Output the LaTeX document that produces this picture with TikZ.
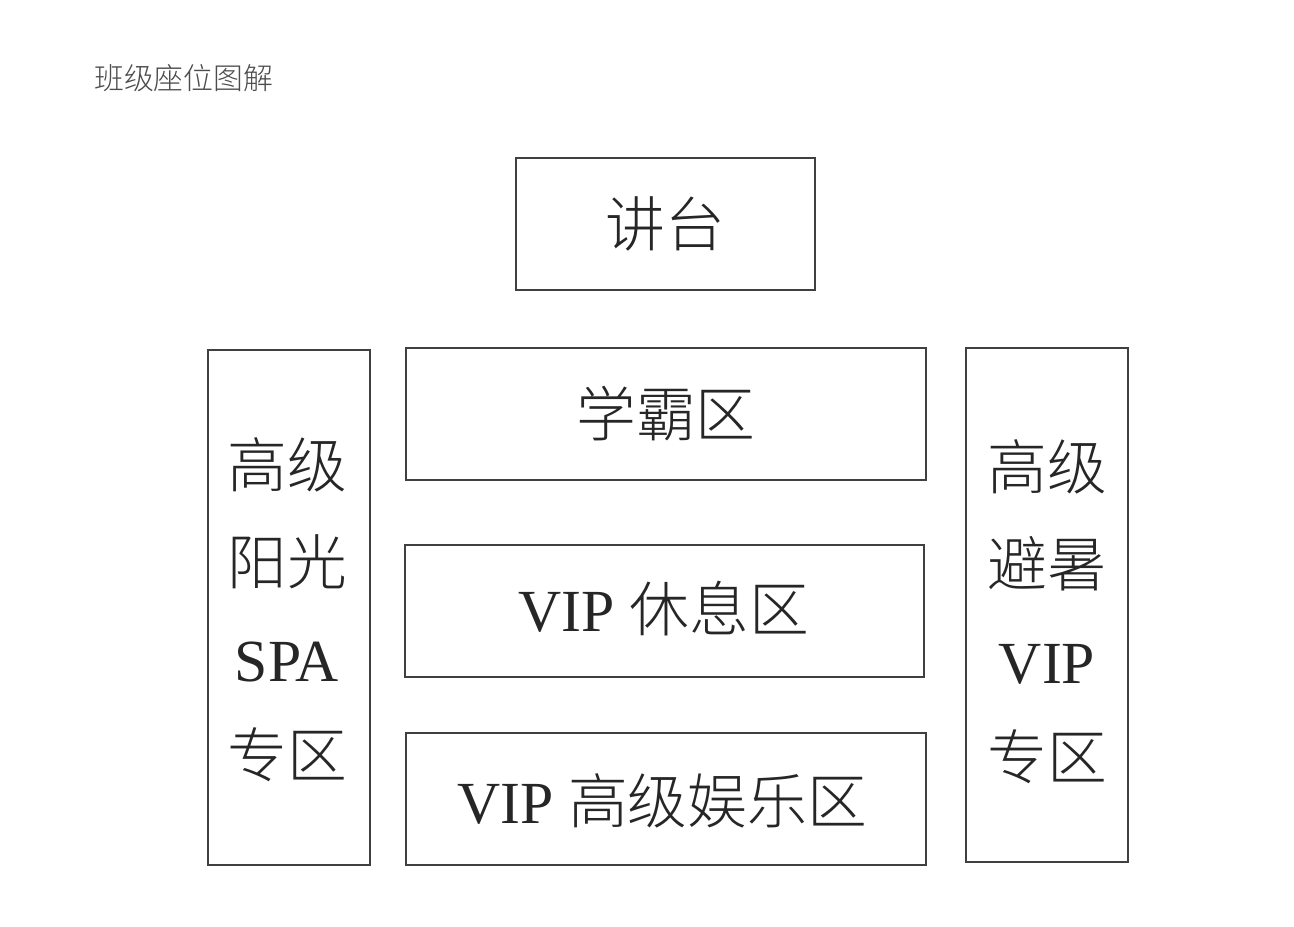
\documentclass[tikz,border=0pt]{standalone}
\usepackage{fontspec}
\setmainfont{Liberation Serif}
\newfontfamily\cjk{Noto Sans CJK SC Light}
\begin{document}
\begin{tikzpicture}[x=0.02cm,y=-0.02cm,
  box/.style={draw=black!75,line width=1.2pt},
  big/.style={font=\fontsize{34}{55}\selectfont,align=center,text=black!85}]
\useasboundingbox (0,0) rectangle (1294,926);
\draw[box] (516,158) rectangle (815,290);
\draw[box] (406,348) rectangle (926,480);
\draw[box] (405,545) rectangle (924,677);
\draw[box] (406,733) rectangle (926,865);
\draw[box] (208,350) rectangle (370,865);
\draw[box] (966,348) rectangle (1128,862);
\node[anchor=west,font=\cjk\fontsize{17}{20}\selectfont,text=black!70] (t) at (88,78) {班级座位图解};
\node[big] (a) at (665,224) {\cjk 讲台};
\node[big] (b) at (666,414) {\cjk 学霸区};
\node[big] (c) at (664,609) {VIP \cjk 休息区};
\node[big] (d) at (662,801) {VIP \cjk 高级娱乐区};
\node[big] (l) at (287,610) {{\cjk 高级}\\{\cjk 阳光}\\SPA\\{\cjk 专区}};
\node[big] (r) at (1047,612) {{\cjk 高级}\\{\cjk 避暑}\\VIP\\{\cjk 专区}};
\end{tikzpicture}
\end{document}
